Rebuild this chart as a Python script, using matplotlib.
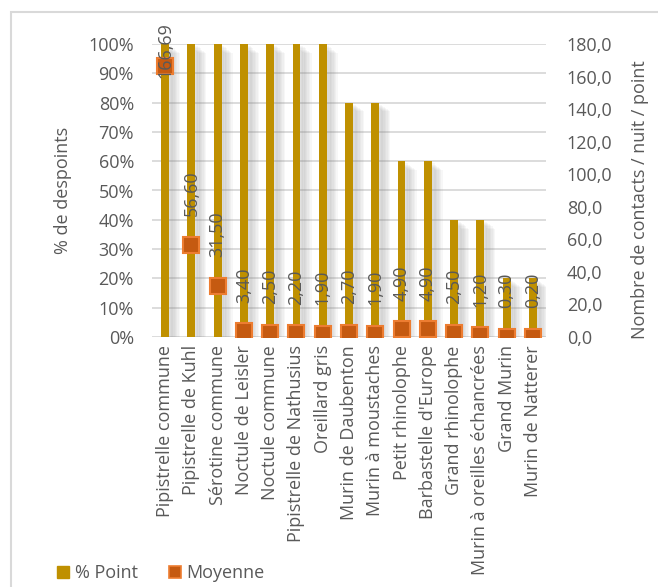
import matplotlib
matplotlib.use("Agg")
import matplotlib.pyplot as plt
import matplotlib.patheffects as pe
from matplotlib.lines import Line2D
from matplotlib.patches import Rectangle
from matplotlib.ticker import FuncFormatter, MultipleLocator

plt.rcParams['font.family'] = ['Open Sans', 'DejaVu Sans']

species = [
    "Pipistrelle commune", "Pipistrelle de Kuhl", "Sérotine commune",
    "Noctule de Leisler", "Noctule commune", "Pipistrelle de Nathusius",
    "Oreillard gris", "Murin de Daubenton", "Murin à moustaches",
    "Petit rhinolophe", "Barbastelle d'Europe", "Grand rhinolophe",
    "Murin à oreilles échancrées", "Grand Murin", "Murin de Natterer",
]
pct_point = [1.0, 1.0, 1.0, 1.0, 1.0, 1.0, 1.0, 0.8, 0.8, 0.6, 0.6, 0.4, 0.4, 0.2, 0.2]
moyenne = [166.69, 56.60, 31.50, 3.40, 2.50, 2.20, 1.90, 2.70, 1.90, 4.90, 4.90, 2.50, 1.20, 0.30, 0.20]

GOLD = "#BF9000"
ORANGE = "#C55A11"
ORANGE_EDGE = "#ED7D31"
TEXT = "#595959"
GRID = "#D9D9D9"
FS = 13

fig = plt.figure(figsize=(6.58, 5.87), dpi=100)
# chart-area border
fig.patches.append(Rectangle((11 / 658, -0.1), 1.2, 1 - 12 / 587 + 0.1,
                             transform=fig.transFigure, fill=False,
                             edgecolor=GRID, linewidth=1.5))

ax = fig.add_axes([152 / 658, 1 - 337 / 587, (546 - 152) / 658, (337 - 44) / 587])
x = list(range(len(species)))

shadow = [pe.SimplePatchShadow(offset=(d, -d * 0.8), shadow_rgbFace="#7f7f7f", alpha=0.06)
          for d in (8, 7, 6, 5, 4, 3, 2)]
bars = ax.bar(x, pct_point, width=0.3, color=GOLD, zorder=3, label="% Point")
for b in bars:
    b.set_path_effects(shadow + [pe.Normal()])

ax.set_xlim(-0.5, len(species) - 0.5)
ax.set_ylim(0, 1)
ax.yaxis.set_major_locator(MultipleLocator(0.1))
ax.yaxis.set_major_formatter(FuncFormatter(lambda v, p: f"{v * 100:.0f}%"))
ax.grid(axis="y", color=GRID, linewidth=1.3, zorder=0)
ax.set_axisbelow(True)
for s in ax.spines.values():
    s.set_visible(False)
ax.tick_params(length=0, colors=TEXT, labelsize=FS)
ax.tick_params(axis="y", pad=13)
ax.tick_params(axis="x", pad=6)
ax.set_xticks(x)
ax.set_xticklabels(species, rotation=90, va="top", ha="center", fontsize=FS, color=TEXT)
ax.set_ylabel("% de despoints", color=TEXT, fontsize=FS)
ax.yaxis.set_label_coords(-0.203, 0.5)

ax2 = ax.twinx()
ax2.set_ylim(0, 180)
ax2.yaxis.set_major_locator(MultipleLocator(20))
ax2.yaxis.set_major_formatter(FuncFormatter(lambda v, p: f"{v:.1f}".replace(".", ",")))
for s in ax2.spines.values():
    s.set_visible(False)
ax2.tick_params(length=0, colors=TEXT, labelsize=FS, pad=15)
ax2.plot(x, moyenne, linestyle="none", marker="s", markersize=11.5,
         markerfacecolor=ORANGE, markeredgecolor=ORANGE_EDGE, markeredgewidth=1.5,
         zorder=5, label="Moyenne")
ax2.set_ylabel("Nombre de contacts / nuit / point", color=TEXT, fontsize=FS, rotation=90)
ax2.yaxis.set_label_coords(1.216, 0.47)

for xi, v in zip(x, moyenne):
    y = min(v + 17.5, 159)
    ax2.text(xi, y, f"{v:.2f}".replace(".", ","), rotation=90, ha="center",
             va="bottom", fontsize=FS, color=TEXT, zorder=6)

handles = [
    Line2D([], [], linestyle="none", marker="s", markersize=8,
           markerfacecolor=GOLD, markeredgecolor=GOLD, label="% Point"),
    Line2D([], [], linestyle="none", marker="s", markersize=8,
           markerfacecolor=ORANGE, markeredgecolor=ORANGE_EDGE, markeredgewidth=1.2,
           label="Moyenne"),
]
leg = fig.legend(handles=handles, loc="center left", bbox_to_anchor=(0.086, 0.024),
                 ncol=2, frameon=False, fontsize=FS, handlelength=0.7,
                 handletextpad=0.3, columnspacing=1.7, labelcolor=TEXT,
                 borderaxespad=0, borderpad=0)

fig.savefig("out.png", dpi=100)
